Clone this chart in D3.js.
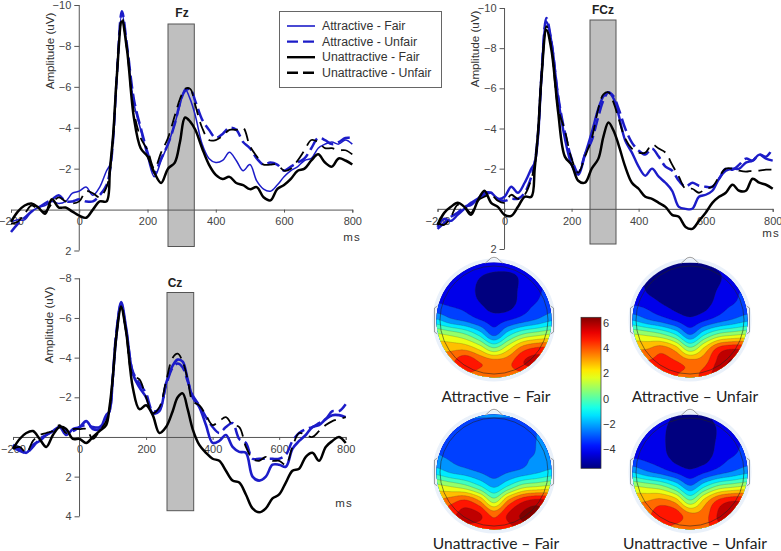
<!DOCTYPE html>
<html><head><meta charset="utf-8">
<script src="https://cdn.jsdelivr.net/npm/d3@7"></script>
<style>html,body{margin:0;background:#fff}svg{display:block}text{font-family:"Liberation Sans",Arial,sans-serif}</style>
</head><body><svg id="c" width="781" height="551"></svg>
<script>
const times=[-200,-180,-160,-140,-120,-100,-80,-60,-40,-20,0,20,40,60,80,90,100,110,125,140,160,180,200,220,240,260,280,295,310,325,340,360,380,400,420,440,460,480,500,520,540,560,580,600,620,640,660,680,700,720,740,760,780,800];
const seriesNames=["Attractive - Fair","Attractive - Unfair","Unattractive - Fair","Unattractive - Unfair"];

const fzAF=[.6,.5,.5,.1,-.1,-.2,-.4,-.3,-.4,-.8,-.9,-1.1,-.7,-1.1,-1.9,-2.2,-3.6,-6.5,-9.6,-8,-5.2,-3.9,-2.6,-1.6,-2.4,-3.2,-4.2,-5.1,-5.9,-5.4,-4.6,-3.2,-2.5,-2.3,-2.4,-2.8,-2.4,-1.9,-2.2,-1.4,-1,-.9,-1.2,-1.6,-1.9,-2.1,-2.4,-2.5,-3,-3.2,-3.3,-3.2,-3.4,-3.2];
const fzAU=[1.1,.7,.4,.1,-.1,-.3,-.5,-.7,-.4,-.4,-.5,-.4,-.4,-.7,-1.2,-1.9,-3.6,-6.5,-9.7,-8,-5.4,-4,-2.8,-1.8,-2.5,-3.2,-4.2,-5.2,-5.8,-5.9,-5.3,-4.4,-3.9,-3.5,-3.7,-4,-3.9,-3.3,-3,-2.5,-2.2,-2.3,-2.2,-1.9,-2.1,-2.3,-2.5,-3,-3.5,-3.4,-3.2,-3.3,-3.5,-3.5];
const fzUF=[.6,.1,-.2,-.3,-.1,.2,-.5,-.1,-.1,.1,.3,.4,0,-.4,-.4,-2,-3.8,-6.5,-9.2,-7.8,-4.5,-3,-2.6,-1.8,-1.3,-2,-2.3,-3.3,-4.5,-4.3,-3.9,-3,-2.2,-1.7,-1.5,-1.6,-1.3,-1.2,-1,-1.1,-.6,-.45,-1,-1.2,-1.5,-1.9,-2,-2.4,-2.7,-2.3,-2.1,-2.5,-2.4,-2.2];
const fzUU=[.7,.6,.2,-.2,0,.1,-.3,-.6,-.4,-.3,-.4,-.9,-.8,-.6,-1.1,-1.9,-3.8,-6.6,-9.4,-7.8,-4.8,-3.5,-2.9,-2,-2.8,-3.5,-4.6,-5.4,-5.9,-5.9,-5.1,-4,-3.4,-3.4,-3.6,-3.9,-3.9,-4,-3.1,-2.6,-2.2,-2.2,-2.2,-1.9,-2,-2.4,-2.9,-3.4,-3.3,-3,-3,-2.9,-2.9,-2.7];

const fczAF=[.9,.5,.6,.3,0,-.3,-.5,-.8,-.8,-.5,-.6,-1.1,-.8,-1.3,-2,-2.3,-3.6,-6.5,-9.3,-8.3,-5.5,-3.5,-2.2,-1.7,-2.7,-3.8,-5,-5.6,-5.8,-5.5,-4.7,-3.4,-2.8,-2.1,-1.65,-2,-1.6,-1.3,-.9,-.1,0,0,-.6,-.7,-.9,-1.5,-1.9,-2,-2,-2.3,-2.4,-2.7,-2.5,-2.4];
const fczAU=[1,.7,.4,.2,-.1,-.2,-.5,-.7,-.8,-.5,-.4,-.5,-.5,-.8,-1.6,-2.3,-3.8,-6.6,-9.5,-8.3,-5.6,-3.8,-2.5,-1.8,-2.7,-3.4,-4.6,-5.4,-5.8,-5.6,-5,-4,-3.3,-2.9,-2.7,-3,-2.6,-2.1,-1.9,-1.4,-1.1,-1.3,-1.15,-1.1,-1.1,-1.5,-2,-1.95,-2.2,-2.5,-2.4,-2.7,-2.6,-3];
const fczUF=[.8,.2,-.1,-.3,-.1,.3,-.4,-.9,-.3,-.1,.3,.35,-.1,-.6,-.6,-2,-3.8,-6.5,-8.9,-7.9,-4.8,-2.6,-2.2,-1.4,-1.3,-2,-2.5,-3.6,-4.3,-3.9,-3.2,-2.1,-1.3,-1,-.6,-.5,-.3,-.1,.3,.4,.9,1,.6,.2,-.3,-.6,-.8,-1.2,-.9,-.9,-1.5,-1.3,-1.2,-1];
const fczUU=[.7,.8,.4,-.2,-.1,.2,-.4,-.6,-.7,-.4,-.3,-.7,-.5,-.7,-1.5,-2.2,-3.8,-6.5,-9.1,-8,-5,-3.9,-2.5,-1.8,-2.6,-3.5,-5,-5.7,-5.8,-5.3,-4.5,-3.5,-3,-2.8,-2.8,-3.2,-3,-2.8,-2.2,-1.6,-1,-1,-.8,-1,-1.1,-1.6,-2,-2,-1.9,-1.85,-1.9,-1.9,-1.95,-1.95];

const czAF=[.4,.6,.8,.4,.2,-.1,-.3,-.5,-.1,-.4,-.5,-.8,-.4,-.4,-1.1,-1.3,-3,-5,-6.8,-5.5,-3.2,-2.5,-2,-1.2,-1.3,-2.7,-3.6,-3.9,-3.8,-2.9,-2,-1.5,-.6,.3,.2,-.1,.5,.75,.8,2,2.2,2,1.4,1.4,1.5,.6,.2,-.1,-.5,-.6,-.9,-1.1,-1.1,-1];
const czAU=[.5,.7,.8,.5,.1,-.1,-.3,-.5,-.3,-.3,-.5,-.6,-.5,-.5,-1,-1.3,-3,-5.2,-6.7,-5.4,-3.3,-2.7,-2.2,-1.3,-1.4,-2.6,-3.5,-3.7,-3.5,-2.8,-2.1,-1.6,-1,-.5,-.2,-.5,-.7,.1,.3,1.1,1.1,1.1,1.1,1.1,.9,.2,-.2,-.4,-.5,-.7,-.9,-1.3,-1.3,-1.65];
const czUF=[.6,.1,-.2,-.3,.1,.5,-.1,-.5,-.4,.1,.1,.3,0,-.3,-.6,-1.5,-3,-5,-6.5,-5.3,-2.5,-1.4,-1.6,-1.1,-.2,-.5,-1.3,-2,-2.2,-1.4,-.4,.4,.8,1.1,1.2,1.7,2.2,2.3,2.9,3.6,3.8,3.6,3.1,2.9,2.3,1.7,1.6,1,.8,1.2,.5,.2,0,.3];
const czUU=[.6,.5,.8,.2,-.1,-.2,-.3,-.6,-.2,-.4,-.4,-.4,.1,-.3,-.8,-1.4,-3,-5,-6.6,-5.3,-3.1,-2.9,-2,-1.2,-1.5,-2.8,-4,-4.2,-3.8,-2.9,-1.8,-1.6,-1.1,-.6,-.8,-1,-.6,-.5,.5,1.1,1.2,1,1.2,1.2,1.4,.5,-.2,-.1,0,-.3,-.6,-.8,-.9,-1];

const fzPanel={name:"Fz",series:[fzAF,fzAU,fzUF,fzUU],ticks:[-10,-8,-6,-4,-2,2]};
const fczPanel={name:"FCz",series:[fczAF,fczAU,fczUF,fczUU],ticks:[-10,-8,-6,-4,-2,2]};
const czPanel={name:"Cz",series:[czAF,czAU,czUF,czUU],ticks:[-8,-6,-4,-2,2,4]};

const colorTicks=[6,4,2,0,-2,-4];
const mapLabels=["Attractive – Fair","Attractive – Unfair","Unattractive – Fair","Unattractive – Unfair"];
const mapAF=[
[-3.5,-3.6,-3.7,-3.9,-4.0,-4.0,-3.9,-3.7,-3.5],
[-3.6,-3.8,-4.0,-4.7,-5.1,-5.1,-4.5,-3.9,-3.6],
[-3.7,-3.9,-4.1,-5.0,-5.3,-5.3,-4.4,-3.9,-3.5],
[-3.6,-3.8,-4.0,-4.6,-5.2,-5.1,-4.2,-3.6,-3.2],
[-1.6,-2.5,-3.0,-3.7,-4.2,-3.8,-3.2,-2.6,-1.9],
[1.4,1.0,.3,-1.1,-3.0,-1.1,.3,.9,1.3],
[3,3,3,2,.5,2,3.8,4.5,4.5],
[3.5,4,5.2,4.3,3.9,4,5.2,5.6,5],
[3.5,3.7,3.8,3.6,3.4,3.6,3.6,3.8,3.8]];
const mapAU=[
[-4,-4.3,-4.7,-5,-5,-4.8,-4.4,-4.1,-3.8],
[-4,-4.9,-5.4,-5.5,-5.5,-5.4,-4.9,-4.1,-3.8],
[-3.9,-4.8,-5.2,-5.5,-5.5,-5.4,-4.6,-3.9,-3.7],
[-3.7,-4,-4.6,-5.1,-5.4,-5.1,-4.2,-3.7,-3.4],
[-1.8,-2.6,-3.2,-3.9,-4.5,-3.9,-3.2,-2.6,-2],
[1.3,1,.4,-.8,-2.8,-.9,.5,1,1.3],
[3.2,3.2,3.8,2.8,.6,2.5,4.6,5.2,5],
[4,4.4,4.6,4.4,3.9,4,5.6,6.4,5.6],
[4.5,5.2,5.4,4.3,4,4.6,6,5.8,5]];
const mapUF=[
[-2.4,-2.5,-2.5,-2.6,-2.6,-2.6,-2.5,-2.4,-2.3],
[-2.6,-2.9,-3.2,-3.4,-3.5,-3.5,-3.4,-2.7,-2.5],
[-2.7,-3,-3.3,-3.5,-3.6,-3.6,-3.5,-2.7,-2.5],
[-2.6,-2.9,-3.3,-3.5,-3.6,-3.5,-3,-2.6,-2.4],
[-1.2,-1.9,-2.3,-2.8,-3.2,-2.8,-2.4,-1.9,-1.4],
[1.6,1.2,.6,-.6,-1.9,-.6,.8,1.2,1.5],
[3.3,3.8,4.4,3.2,.8,3.4,5,5.6,5.2],
[4.2,5,5.6,5.4,4,5.4,6.4,6.6,5.6],
[4.5,5,5,4.6,4.4,4.8,5.8,6,5.4]];
const mapUU=[
[-3.8,-4,-4.2,-4.8,-5,-4.9,-4.3,-4,-3.7],
[-3.9,-4.1,-4.4,-5.4,-5.5,-5.5,-4.6,-4,-3.7],
[-4,-4.2,-4.5,-5.4,-5.6,-5.5,-4.5,-4,-3.6],
[-3.8,-4,-4.3,-5.1,-5.4,-5.2,-4.2,-3.7,-3.3],
[-1.8,-2.6,-3.2,-3.9,-4.5,-3.9,-3.2,-2.6,-2],
[1.3,1,.5,-.8,-2.6,-.9,.5,1,1.4],
[3,3.2,3.6,2.8,.4,2.6,4.5,5.2,5],
[3.6,4,5,4.8,3.6,3.8,5.4,5.7,5],
[3.8,4.4,4.4,3.8,3.5,3.8,5,5.2,4.6]];
const maps=[mapAF,mapAU,mapUF,mapUU];
const levels=d3.range(-4.75,6.75,1);
const jetStops=["#00007f","#0000ff","#007fff","#00ffff","#7fff7f","#ffff00","#ff7f00","#ff0000","#7f0000"];
</script>
<script>
const svg=d3.select("#c");
const blue="#1c1cc8",black="#000";
const dashes=[null,"13,5",null,"13,7"];
const colors=[blue,blue,black,black];
const defs=svg.append("defs");
defs.append("filter").attr("id","soft").append("feGaussianBlur").attr("stdDeviation",.45);

function panel(p,L){
  const x=d3.scaleLinear().domain([-200,800]).range(L.x);
  const y=d3.scaleLinear().domain(L.yd).range(L.y);
  const g=svg.append("g");
  g.append("rect").attr("x",L.bar[0]).attr("width",L.bar[1]-L.bar[0]).attr("y",L.bar[2]).attr("height",L.bar[3]-L.bar[2])
    .attr("fill","#bfbfbf").attr("stroke","#555").attr("stroke-width",1);
  const xa=g.append("g").attr("transform",`translate(0,${y(0)})`).call(d3.axisBottom(x).tickValues([-200,0,200,400,600,800]).tickFormat(d3.format("d")).tickSize(3).tickPadding(5));
  const ya=g.append("g").attr("transform",`translate(${x(0)},0)`).call(d3.axisLeft(y).tickValues(p.ticks).tickSize(5).tickPadding(3));
  [xa,ya].forEach(a=>{a.selectAll("path,line").attr("stroke","#555").attr("stroke-width",1);a.selectAll("text").attr("font-size",11).attr("fill","#444").style("font-family",'"Liberation Sans"');});
  ya.selectAll("path").attr("d",`M0,${L.y[0]}V${L.y[1]}`);
  const line=d3.line().x((d,i)=>x(times[i])).y(d=>y(d)).curve(d3.curveCatmullRom.alpha(.5));
  const gl=g.append("g").attr("filter","url(#soft)");
  [0,1,2,3].forEach(i=>{
    gl.append("path").datum(p.series[i]).attr("d",line).attr("fill","none").attr("stroke",colors[i])
      .attr("stroke-width",i===0?L.w0:(i===3?1.8:2.5)).attr("stroke-dasharray",dashes[i]);
  });
  g.append("text").text(p.name).attr("x",L.title[0]).attr("y",L.title[1]).attr("text-anchor","middle").attr("font-size",12).attr("font-weight","bold").attr("fill","#222");
  g.append("text").text("ms").attr("x",L.ms[0]).attr("y",L.ms[1]).attr("text-anchor","middle").attr("font-size",11.5).attr("letter-spacing",1).attr("fill","#333");
  g.append("text").text("Amplitude (uV)").attr("transform",`translate(${L.amp[0]},${L.amp[1]}) rotate(-90)`).attr("text-anchor","middle").attr("font-size",11.6).attr("fill","#333");
}
panel(fzPanel,{x:[11,352.3],y:[5,250.5],yd:[-10,2],bar:[168,194.3,24,246.5],title:[182,17],ms:[352,241],amp:[54,51],w0:1.5});
panel(fczPanel,{x:[437.5,772.7],y:[8,249],yd:[-10,2],bar:[590,616,20,244],title:[603,14],ms:[771,237],amp:[479,49],w0:2.4});
panel(czPanel,{x:[13,345.7],y:[278.3,516.3],yd:[-8,4],bar:[167,193.7,292.5,510.7],title:[175,287],ms:[344,507],amp:[53,325],w0:2.6});

// legend
const lg=svg.append("g");
lg.append("rect").attr("x",279.5).attr("y",11.5).attr("width",162).attr("height",76).attr("fill","#fff").attr("stroke","#666");
seriesNames.forEach((n,i)=>{
  const yy=26+i*15.6;
  lg.append("line").attr("x1",287).attr("x2",315).attr("y1",yy).attr("y2",yy).attr("stroke",colors[i]).attr("stroke-width",i===0?1.6:2.4).attr("stroke-dasharray",dashes[i]?"11,5":null);
  lg.append("text").text(n).attr("x",322).attr("y",yy+4).attr("font-size",12.3).attr("fill","#333");
});

// colour scale
const jet=d3.scaleLinear().domain(d3.range(9).map(i=>-5.5+i*(12/8))).range(jetStops).clamp(true);
const bandColor=v=>jet(v+.5);

// topographic maps: coarse field, contoured with d3.contours
const R=57.5, N=117;
function cr(a,b,c,d,t){return .5*((2*b)+(-a+c)*t+(2*a-5*b+4*c-d)*t*t+(-a+3*b-3*c+d)*t*t*t);}
function field(m){
  const n=m.length-1,out=new Array(N*N);
  const at=(r,c)=>m[Math.max(0,Math.min(n,r))][Math.max(0,Math.min(n,c))];
  for(let j=0;j<N;j++)for(let i=0;i<N;i++){
    const fy=j/(N-1)*n,fx=i/(N-1)*n,r=Math.min(n-1,Math.floor(fy)),c=Math.min(n-1,Math.floor(fx)),ty=fy-r,tx=fx-c;
    const row=k=>cr(at(r+k,c-1),at(r+k,c),at(r+k,c+1),at(r+k,c+2),tx);
    out[j*N+i]=cr(row(-1),row(0),row(1),row(2),ty);
  }
  return out;
}
const centers=[[494,320],[690,320],[494,472],[690,472]];
const labelPos=[[496,402],[695,402],[496,549],[695,549]];
const gridToPx=d3.scaleLinear().domain([0,N-1]).range([-R,R]);
const geo=d3.geoPath(d3.geoTransform({point(x,y){this.stream.point(gridToPx(x-.5),gridToPx(y-.5));}}));
maps.forEach((m,k)=>{
  const [cx,cy]=centers[k];
  const g=svg.append("g").attr("transform",`translate(${cx},${cy})`);
  const id="clip"+k;
  defs.append("clipPath").attr("id",id).append("circle").attr("r",R);
  g.append("circle").attr("r",R+4).attr("fill","#eaf1fa");
  const f=field(m);
  const cs=d3.contours().size([N,N]).thresholds(levels)(f);
  const gc=g.append("g").attr("clip-path",`url(#${id})`);
  gc.append("rect").attr("x",-R).attr("y",-R).attr("width",2*R).attr("height",2*R).attr("fill",bandColor(-6.2));
  gc.selectAll("path").data(cs).join("path").attr("d",geo).attr("fill",d=>bandColor(d.value)).attr("stroke","#333").attr("stroke-opacity",.4).attr("stroke-width",.5);
  g.append("circle").attr("r",R-3.5).attr("fill","none").attr("stroke","#222").attr("stroke-opacity",.7).attr("stroke-width",.8);
  const head=g.append("g").attr("fill","none").attr("stroke","#777").attr("stroke-width",.7);
  head.append("path").attr("d",`M-9,${-R+1}L-3,${-R-4.5}Q0,${-R-6} 3,${-R-4.5}L9,${-R+1}`);
  head.append("path").attr("d",`M${-R+1},-14L${-R-2},-12L${-R-2},12L${-R+1},14`);
  head.append("path").attr("d",`M${R-1},-14L${R+2},-12L${R+2},12L${R-1},14`);
  svg.append("text").text(mapLabels[k]).attr("x",labelPos[k][0]).attr("y",labelPos[k][1]).attr("text-anchor","middle").attr("font-size",15.6).style("font-family","Lato").attr("fill","#222");
});

// colour bar
const barScale=d3.scaleLinear().domain([6,-4]).range([323,449]);
const barTop=barScale.invert(317.3),barBot=barScale.invert(468.3);
const grad=defs.append("linearGradient").attr("id","jetg").attr("x1",0).attr("x2",0).attr("y1",0).attr("y2",1);
d3.range(0,1.001,.05).forEach(t=>grad.append("stop").attr("offset",t).attr("stop-color",jet(barTop+(barBot-barTop)*t)));
svg.append("rect").attr("x",581).attr("y",317.3).attr("width",20).attr("height",151).attr("fill","url(#jetg)").attr("stroke","#333").attr("stroke-width",.7);
const ca=svg.append("g").attr("transform","translate(601,0)").call(d3.axisRight(barScale).tickValues(colorTicks).tickSize(0).tickPadding(2));
ca.select("path").remove();
ca.selectAll("text").attr("font-size",11).attr("fill","#333").style("font-family",'"Liberation Sans"');
</script></body></html>
